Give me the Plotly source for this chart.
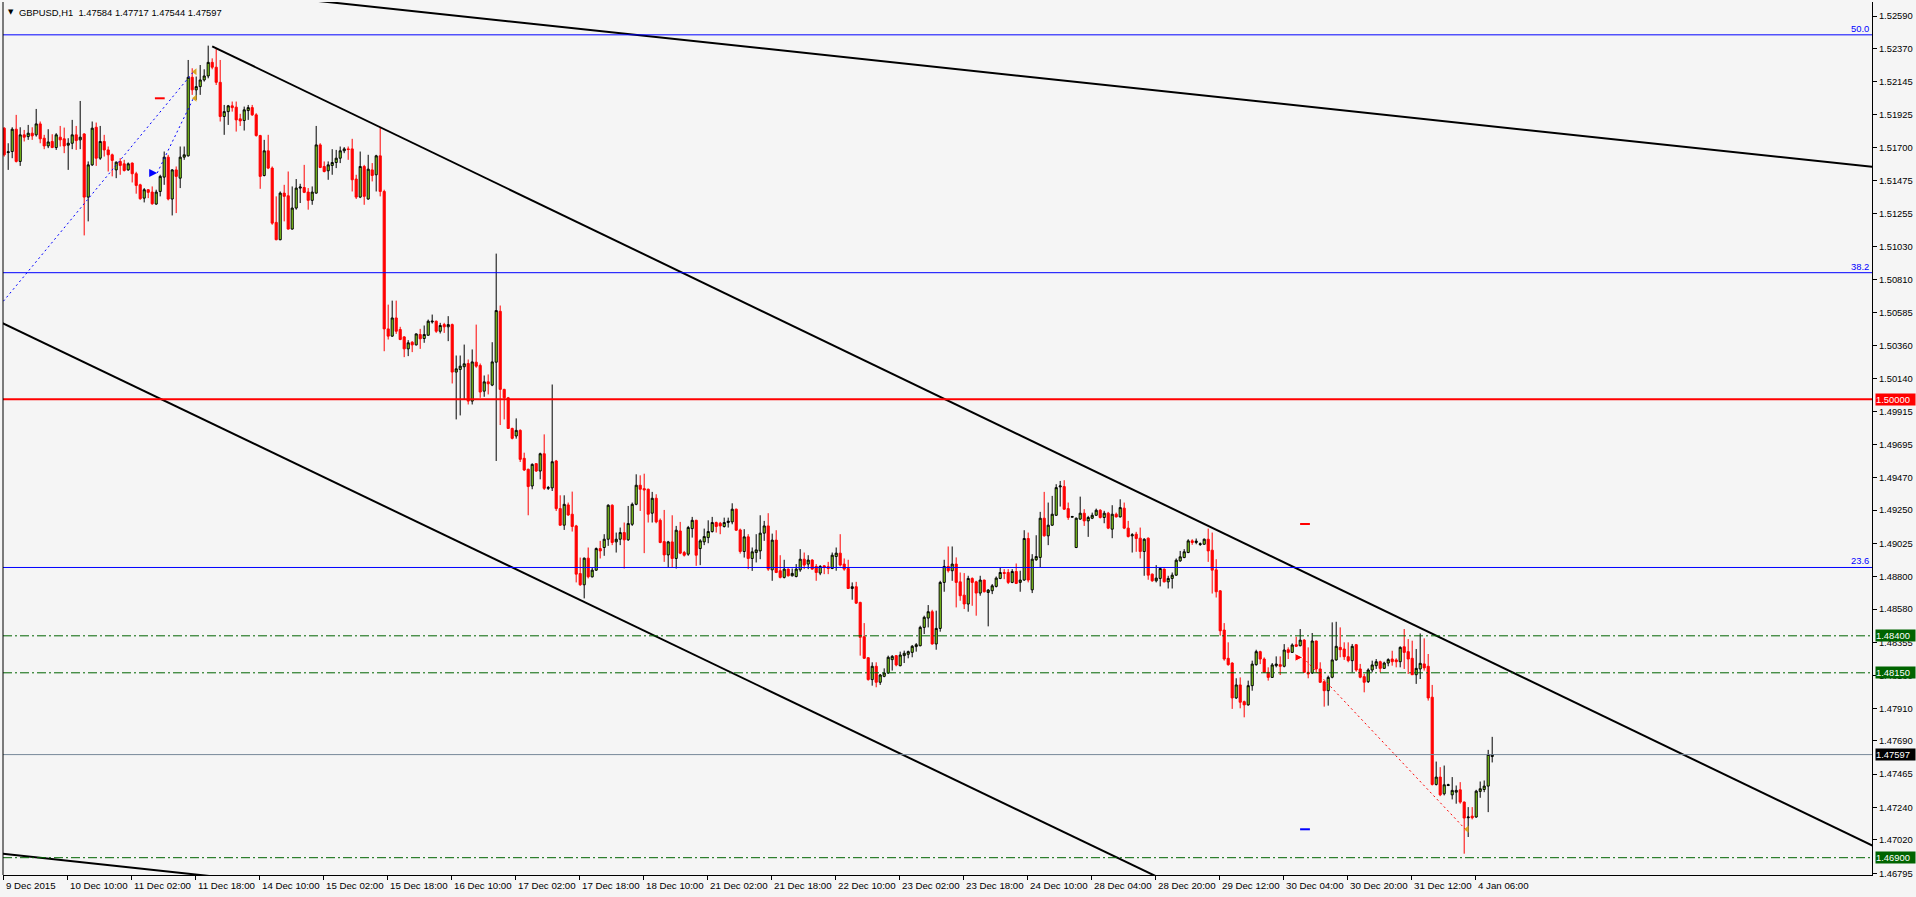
import plotly.graph_objects as go

# ---------------- data (GBPUSD H1) ----------------
x_labels = ["9 Dec 2015", "10 Dec 10:00", "11 Dec 02:00", "11 Dec 18:00", "14 Dec 10:00",
            "15 Dec 02:00", "15 Dec 18:00", "16 Dec 10:00", "17 Dec 02:00", "17 Dec 18:00",
            "18 Dec 10:00", "21 Dec 02:00", "21 Dec 18:00", "22 Dec 10:00", "23 Dec 02:00",
            "23 Dec 18:00", "24 Dec 10:00", "28 Dec 04:00", "28 Dec 20:00", "29 Dec 12:00",
            "30 Dec 04:00", "30 Dec 20:00", "31 Dec 12:00", "4 Jan 06:00"]
x_label_bars = [0, 16, 32, 48, 64, 80, 96, 112, 128, 144, 160, 176, 192, 208, 224,
                240, 256, 272, 288, 304, 320, 336, 352, 368]

open_ = [
1.51832,1.51667,1.51674,1.51825,1.51607,1.51787,1.51775,1.51798,1.51787,1.51861,
1.51764,1.51712,1.51742,1.51701,1.51771,1.51760,1.51717,1.51730,1.51787,1.51753,
1.51793,1.51366,1.51584,1.51838,1.51629,1.51742,1.51685,1.51652,1.51550,1.51607,
1.51591,1.51550,1.51596,1.51524,1.51449,1.51359,1.51416,1.51400,1.51319,1.51404,
1.51501,1.51636,1.51353,1.51550,1.51494,1.51636,1.51645,1.52176,1.52091,1.52113,
1.52158,1.52185,1.52277,1.52244,1.52142,1.51911,1.51944,1.51983,1.51974,1.51895,
1.51884,1.51951,1.51971,1.51922,1.51782,1.51512,1.51679,1.51562,1.51195,1.51078,
1.51393,1.51375,1.51150,1.51292,1.51427,1.51431,1.51400,1.51344,1.51393,1.51719,
1.51573,1.51544,1.51580,1.51600,1.51629,1.51679,1.51692,1.51692,1.51488,1.51366,
1.51573,1.51353,1.51550,1.51517,1.51645,1.51404,1.50475,1.50426,1.50549,1.50471,
1.50421,1.50340,1.50385,1.50367,1.50437,1.50410,1.50432,1.50522,1.50527,1.50459,
1.50504,1.50489,1.50504,1.50183,1.50201,1.50219,1.50241,1.49987,1.50250,1.50228,
1.50054,1.50117,1.50095,1.50250,1.50594,1.50066,1.50009,1.49802,1.49751,1.49789,
1.49600,1.49526,1.49413,1.49564,1.49514,1.49631,1.49397,1.49400,1.49582,1.49260,
1.49148,1.49285,1.49222,1.49143,1.48821,1.48745,1.48925,1.48799,1.48844,1.48990,
1.48997,1.49053,1.49283,1.49035,1.49053,1.49098,1.49049,1.49154,1.49289,1.49418,
1.49395,1.49391,1.49229,1.49330,1.49181,1.49037,1.48947,1.49035,1.48923,1.49109,
1.48963,1.48952,1.49125,1.49181,1.48990,1.49035,1.49064,1.49105,1.49166,1.49161,
1.49139,1.49166,1.49170,1.49256,1.49116,1.48970,1.49069,1.48923,1.48963,1.48974,
1.49094,1.49143,1.48846,1.49047,1.48840,1.48795,1.48851,1.48806,1.48801,1.48846,
1.48918,1.48885,1.48912,1.48869,1.48824,1.48873,1.48867,1.48855,1.48936,1.48959,
1.48885,1.48855,1.48720,1.48732,1.48626,1.48394,1.48252,1.48104,1.48194,1.48086,
1.48126,1.48149,1.48239,1.48266,1.48198,1.48266,1.48275,1.48288,1.48327,1.48333,
1.48457,1.48520,1.48563,1.48345,1.48450,1.48761,1.48869,1.48840,1.48885,1.48765,
1.48675,1.48615,1.48788,1.48765,1.48689,1.48777,1.48693,1.48705,1.48734,1.48788,
1.48828,1.48828,1.48761,1.48835,1.48761,1.48777,1.49058,1.48711,1.48914,1.48930,
1.49195,1.49076,1.49148,1.49215,1.49407,1.49409,1.49260,1.49202,1.48997,1.49189,
1.49229,1.49177,1.49195,1.49215,1.49249,1.49200,1.49229,1.49121,1.49222,1.49204,
1.49263,1.49128,1.49076,1.49087,1.49060,1.48970,1.49060,1.48817,1.48772,1.48788,
1.48851,1.48765,1.48788,1.48810,1.48907,1.48929,1.48963,1.49042,1.49031,1.49017,
1.49019,1.49053,1.48979,1.48846,1.48704,1.48439,1.48248,1.48216,1.47980,1.48068,
1.47955,1.47933,1.48063,1.48205,1.48293,1.48243,1.48153,1.48119,1.48198,1.48205,
1.48194,1.48306,1.48288,1.48340,1.48333,1.48371,1.48153,1.48149,1.48365,1.48176,
1.48090,1.48029,1.48120,1.48237,1.48322,1.48311,1.48259,1.48232,1.48340,1.48176,
1.48124,1.48090,1.48169,1.48198,1.48225,1.48180,1.48216,1.48243,1.48237,1.48225,
1.48326,1.48293,1.48248,1.48137,1.48176,1.48210,1.48194,1.47985,1.47395,1.47445,
1.47332,1.47388,1.47325,1.47343,1.47359,1.47276,1.47170,1.47181,1.47175,1.47348,
1.47361,1.47384,1.47584]

high = [
1.51838,1.51730,1.51838,1.51922,1.51838,1.51820,1.51854,1.51838,1.51962,1.51877,
1.51787,1.51825,1.51791,1.51798,1.51847,1.51836,1.51764,1.51888,1.51847,1.52016,
1.51798,1.51607,1.51877,1.51870,1.51847,1.51787,1.51708,1.51660,1.51607,1.51629,
1.51618,1.51600,1.51600,1.51537,1.51456,1.51427,1.51420,1.51438,1.51416,1.51517,
1.51674,1.51652,1.51555,1.51573,1.51708,1.51708,1.52293,1.52237,1.52181,1.52259,
1.52230,1.52390,1.52304,1.52372,1.52293,1.51989,1.51989,1.52012,1.52012,1.51929,
1.51978,1.51989,1.51989,1.51933,1.51787,1.51753,1.51787,1.51573,1.51371,1.51404,
1.51449,1.51539,1.51438,1.51488,1.51456,1.51584,1.51427,1.51438,1.51847,1.51730,
1.51607,1.51607,1.51690,1.51685,1.51708,1.51704,1.51708,1.51760,1.51517,1.51674,
1.51584,1.51652,1.51596,1.51652,1.51838,1.51416,1.50639,1.50666,1.50666,1.50489,
1.50426,1.50399,1.50392,1.50444,1.50475,1.50498,1.50538,1.50572,1.50531,1.50516,
1.50516,1.50561,1.50511,1.50295,1.50295,1.50369,1.50268,1.50336,1.50504,1.50241,
1.50160,1.50167,1.50385,1.50984,1.50633,1.50070,1.50015,1.49807,1.49870,1.49796,
1.49638,1.49530,1.49566,1.49566,1.49638,1.49762,1.49413,1.50099,1.49589,1.49350,
1.49350,1.49301,1.49375,1.49150,1.48929,1.48929,1.48997,1.48862,1.48997,1.49042,
1.49087,1.49289,1.49289,1.49098,1.49132,1.49166,1.49278,1.49301,1.49492,1.49485,
1.49496,1.49395,1.49373,1.49357,1.49193,1.49251,1.49042,1.49215,1.49143,1.49170,
1.48974,1.49143,1.49204,1.49184,1.49053,1.49125,1.49181,1.49204,1.49172,1.49170,
1.49199,1.49199,1.49296,1.49260,1.49125,1.49121,1.49087,1.48997,1.49087,1.49215,
1.49177,1.49229,1.49091,1.49114,1.48945,1.48914,1.48855,1.48855,1.48885,1.48986,
1.48963,1.48945,1.48918,1.48885,1.48878,1.48878,1.48900,1.48963,1.48997,1.49087,
1.48923,1.48914,1.48761,1.48765,1.48630,1.48486,1.48255,1.48221,1.48221,1.48142,
1.48180,1.48266,1.48270,1.48270,1.48293,1.48300,1.48300,1.48338,1.48351,1.48468,
1.48536,1.48608,1.48576,1.48570,1.48772,1.48914,1.49004,1.49004,1.48930,1.48828,
1.48824,1.48806,1.48795,1.48772,1.48806,1.48779,1.48716,1.48750,1.48801,1.48862,
1.48851,1.48851,1.48851,1.48889,1.48840,1.49114,1.49098,1.48952,1.49080,1.49238,
1.49373,1.49301,1.49346,1.49425,1.49447,1.49452,1.49301,1.49211,1.49200,1.49341,
1.49256,1.49211,1.49233,1.49260,1.49256,1.49245,1.49238,1.49283,1.49233,1.49323,
1.49301,1.49177,1.49094,1.49103,1.49132,1.49060,1.49065,1.48821,1.48878,1.48862,
1.48855,1.48806,1.48828,1.48923,1.48974,1.48986,1.49053,1.49053,1.49058,1.49031,
1.49058,1.49125,1.49098,1.48918,1.48709,1.48486,1.48356,1.48221,1.48113,1.48119,
1.47962,1.48097,1.48232,1.48306,1.48299,1.48254,1.48187,1.48216,1.48261,1.48261,
1.48344,1.48322,1.48349,1.48394,1.48446,1.48378,1.48322,1.48419,1.48367,1.48221,
1.48097,1.48131,1.48491,1.48495,1.48457,1.48356,1.48356,1.48345,1.48345,1.48210,
1.48142,1.48180,1.48232,1.48243,1.48232,1.48225,1.48248,1.48299,1.48248,1.48329,
1.48446,1.48378,1.48367,1.48311,1.48416,1.48383,1.48277,1.48068,1.47550,1.47512,
1.47523,1.47400,1.47445,1.47388,1.47411,1.47280,1.47242,1.47242,1.47359,1.47415,
1.47422,1.47629,1.47717]

low = [
1.51640,1.51550,1.51629,1.51600,1.51577,1.51742,1.51753,1.51753,1.51775,1.51730,
1.51690,1.51697,1.51697,1.51685,1.51708,1.51663,1.51550,1.51690,1.51685,1.51690,
1.51107,1.51202,1.51577,1.51577,1.51618,1.51640,1.51539,1.51506,1.51494,1.51517,
1.51539,1.51544,1.51465,1.51389,1.51348,1.51330,1.51359,1.51314,1.51314,1.51371,
1.51449,1.51344,1.51242,1.51258,1.51427,1.51618,1.51640,1.52057,1.52023,1.52057,
1.52147,1.52169,1.52230,1.52124,1.51877,1.51787,1.51854,1.51944,1.51809,1.51847,
1.51816,1.51888,1.51915,1.51775,1.51422,1.51506,1.51555,1.51179,1.51074,1.51074,
1.51202,1.51146,1.51146,1.51281,1.51326,1.51393,1.51281,1.51314,1.51389,1.51562,
1.51533,1.51483,1.51517,1.51562,1.51596,1.51663,1.51618,1.51404,1.51353,1.51359,
1.51314,1.51348,1.51472,1.51404,1.51371,1.50324,1.50403,1.50421,1.50441,1.50399,
1.50284,1.50291,1.50318,1.50363,1.50340,1.50381,1.50430,1.50511,1.50448,1.50444,
1.50448,1.50392,1.50106,1.49863,1.49890,1.49998,1.49964,1.49964,1.50212,1.50009,
1.50016,1.50032,1.50088,1.49582,1.49825,1.49863,1.49800,1.49728,1.49733,1.49575,
1.49514,1.49215,1.49391,1.49508,1.49458,1.49386,1.49386,1.49379,1.49244,1.49143,
1.49116,1.49211,1.49105,1.48761,1.48738,1.48653,1.48788,1.48794,1.48839,1.48923,
1.48941,1.49008,1.49013,1.48963,1.49013,1.48855,1.49042,1.49143,1.49283,1.49244,
1.48959,1.49166,1.49166,1.49161,1.49026,1.48900,1.48862,1.48862,1.48855,1.48952,
1.48936,1.48941,1.49064,1.48873,1.48878,1.49013,1.49026,1.49098,1.49098,1.49087,
1.49132,1.49132,1.49154,1.49109,1.48956,1.48929,1.48851,1.48839,1.48896,1.48918,
1.49042,1.48839,1.48772,1.48824,1.48788,1.48788,1.48801,1.48801,1.48795,1.48833,
1.48851,1.48851,1.48846,1.48772,1.48810,1.48817,1.48817,1.48851,1.48840,1.48869,
1.48840,1.48716,1.48644,1.48615,1.48266,1.48243,1.48097,1.48063,1.48052,1.48068,
1.48120,1.48142,1.48165,1.48194,1.48194,1.48216,1.48248,1.48255,1.48293,1.48329,
1.48412,1.48457,1.48340,1.48306,1.48428,1.48698,1.48828,1.48772,1.48592,1.48637,
1.48581,1.48563,1.48603,1.48536,1.48671,1.48693,1.48464,1.48682,1.48727,1.48783,
1.48783,1.48750,1.48756,1.48750,1.48698,1.48772,1.48761,1.48689,1.48907,1.48862,
1.49071,1.49013,1.49143,1.49211,1.49274,1.49251,1.49184,1.49200,1.48993,1.49184,
1.49143,1.49069,1.49189,1.49211,1.49193,1.49161,1.49121,1.49060,1.49200,1.49200,
1.49121,1.49065,1.48963,1.48968,1.48923,1.48806,1.48779,1.48765,1.48761,1.48734,
1.48761,1.48720,1.48720,1.48806,1.48900,1.48925,1.48959,1.49015,1.49019,1.49008,
1.49015,1.48900,1.48686,1.48659,1.48401,1.48232,1.48198,1.47906,1.47973,1.47910,
1.47849,1.47928,1.48029,1.48198,1.48209,1.48149,1.48097,1.48115,1.48187,1.48135,
1.48187,1.48243,1.48284,1.48324,1.48329,1.48149,1.48113,1.48142,1.48149,1.48081,
1.47921,1.47928,1.48113,1.48232,1.48255,1.48237,1.48221,1.48153,1.48158,1.48113,
1.48018,1.48081,1.48153,1.48176,1.48153,1.48176,1.48194,1.48198,1.48187,1.48187,
1.48176,1.48142,1.48135,1.48075,1.48108,1.48165,1.47962,1.47388,1.47388,1.47316,
1.47321,1.47384,1.47294,1.47265,1.47265,1.46927,1.47040,1.47159,1.47170,1.47305,
1.47343,1.47208,1.47544]

close = [
1.51652,1.51672,1.51825,1.51607,1.51787,1.51771,1.51798,1.51780,1.51861,1.51760,
1.51712,1.51739,1.51701,1.51787,1.51753,1.51712,1.51730,1.51787,1.51748,1.51771,
1.51366,1.51584,1.51832,1.51629,1.51742,1.51685,1.51652,1.51614,1.51602,1.51580,
1.51546,1.51591,1.51524,1.51445,1.51355,1.51416,1.51398,1.51321,1.51400,1.51506,
1.51636,1.51353,1.51550,1.51506,1.51636,1.51652,1.52176,1.52091,1.52113,1.52158,
1.52185,1.52277,1.52244,1.52142,1.51911,1.51944,1.51983,1.51971,1.51888,1.51881,
1.51956,1.51971,1.51922,1.51782,1.51506,1.51679,1.51562,1.51190,1.51078,1.51393,
1.51371,1.51150,1.51292,1.51427,1.51434,1.51398,1.51344,1.51400,1.51719,1.51566,
1.51539,1.51584,1.51600,1.51629,1.51679,1.51692,1.51688,1.51483,1.51366,1.51573,
1.51371,1.51555,1.51512,1.51645,1.51404,1.50475,1.50426,1.50549,1.50459,1.50403,
1.50340,1.50381,1.50367,1.50441,1.50408,1.50437,1.50527,1.50527,1.50459,1.50498,
1.50489,1.50504,1.50183,1.50205,1.50223,1.50239,1.49987,1.50252,1.50223,1.50048,
1.50117,1.50104,1.50252,1.50599,1.50066,1.50009,1.49802,1.49735,1.49789,1.49593,
1.49521,1.49409,1.49559,1.49514,1.49631,1.49397,1.49402,1.49577,1.49260,1.49148,
1.49289,1.49217,1.49139,1.48817,1.48745,1.48925,1.48799,1.48844,1.48990,1.48974,
1.49053,1.49283,1.49031,1.49053,1.49098,1.49049,1.49159,1.49289,1.49418,1.49391,
1.49386,1.49222,1.49330,1.49170,1.49031,1.48947,1.49035,1.48923,1.49114,1.48959,
1.48945,1.49132,1.49181,1.48945,1.49042,1.49071,1.49105,1.49166,1.49139,1.49143,
1.49166,1.49175,1.49256,1.49114,1.48970,1.49069,1.48923,1.48968,1.48981,1.49094,
1.49143,1.48851,1.49047,1.48828,1.48795,1.48851,1.48806,1.48822,1.48851,1.48918,
1.48878,1.48912,1.48851,1.48828,1.48869,1.48862,1.48855,1.48945,1.48959,1.48878,
1.48851,1.48720,1.48732,1.48621,1.48390,1.48248,1.48104,1.48194,1.48086,1.48135,
1.48149,1.48255,1.48261,1.48203,1.48270,1.48282,1.48293,1.48329,1.48340,1.48457,
1.48525,1.48563,1.48345,1.48450,1.48761,1.48869,1.48840,1.48885,1.48761,1.48671,
1.48615,1.48788,1.48761,1.48689,1.48777,1.48698,1.48709,1.48738,1.48790,1.48828,
1.48822,1.48761,1.48835,1.48754,1.48777,1.49058,1.48777,1.48918,1.48936,1.49195,
1.49076,1.49148,1.49222,1.49402,1.49413,1.49256,1.49200,1.49206,1.49195,1.49229,
1.49177,1.49200,1.49215,1.49249,1.49200,1.49229,1.49128,1.49222,1.49204,1.49267,
1.49128,1.49071,1.49083,1.49058,1.48970,1.49053,1.48810,1.48772,1.48790,1.48855,
1.48765,1.48788,1.48810,1.48911,1.48934,1.48968,1.49042,1.49031,1.49040,1.49022,
1.49053,1.48974,1.48844,1.48698,1.48434,1.48243,1.48205,1.47980,1.48068,1.47951,
1.47933,1.48063,1.48209,1.48293,1.48243,1.48153,1.48119,1.48203,1.48209,1.48194,
1.48304,1.48288,1.48338,1.48329,1.48371,1.48153,1.48142,1.48365,1.48176,1.48086,
1.48029,1.48119,1.48237,1.48329,1.48306,1.48259,1.48232,1.48329,1.48169,1.48120,
1.48086,1.48169,1.48203,1.48225,1.48180,1.48216,1.48239,1.48225,1.48225,1.48322,
1.48288,1.48243,1.48137,1.48180,1.48214,1.48183,1.47980,1.47395,1.47445,1.47325,
1.47393,1.47393,1.47355,1.47355,1.47276,1.47168,1.47175,1.47170,1.47350,1.47366,
1.47384,1.47598,1.47597]

y_ticks = [1.52590, 1.52370, 1.52145, 1.51925, 1.51700, 1.51475, 1.51255, 1.51030,
           1.50810, 1.50585, 1.50360, 1.50140, 1.49915, 1.49695, 1.49470, 1.49250,
           1.49025, 1.48800, 1.48580, 1.48355, 1.48130, 1.47910, 1.47690, 1.47465,
           1.47240, 1.47020, 1.46795]

# horizontal levels
fib_levels = [1.52463, 1.50855, 1.48862]
fib_names = ["50.0", "38.2", "23.6"]
round_level = 1.50000
green_levels = [1.48400, 1.48150, 1.46900]
bid_price = 1.47597

# trend lines: (bars, prices)
trend_lines = [
    ([40, 470], [1.52803, 1.51562]),
    ([52, 470], [1.52385, 1.46943]),
    ([-1, 320], [1.50522, 1.46359]),
    ([-1, 60], [1.46928, 1.46751]),
]

# trade history objects
buy_lines = [([-1, 47.3], [1.50636, 1.52213]), ([38.25, 47.3], [1.51529, 1.52034])]
sell_line = ([324.7, 365.3], [1.48254, 1.47092])
buy_arrow = (38.25, 1.51529)
sell_arrow = (324.7, 1.48254)
close_arrows = ([47.7, 47.7, 365.7], [1.52213, 1.52034, 1.47092])
red_marks = ([38.9, 325.2], [1.52034, 1.49156])
blue_marks = ([325.2], [1.47092])

title_text = "GBPUSD,H1  1.47584 1.47717 1.47544 1.47597"

# ---------------- figure ----------------
FONT = "Liberation Sans"
FS = 9.4
FSX = 9.7
BG = "#F5F5F5"
bars = list(range(len(open_)))

fig = go.Figure()
fig.add_trace(go.Candlestick(
    x=bars, open=open_, high=high, low=low, close=close,
    increasing=dict(line=dict(color="#000000", width=1), fillcolor="#8FE31C"),
    decreasing=dict(line=dict(color="#FF0000", width=1), fillcolor="#FF0000"),
    whiskerwidth=0, showlegend=False, hoverinfo="none"))

for xs, ys in trend_lines:
    fig.add_trace(go.Scatter(x=xs, y=ys, mode="lines", line=dict(color="#000000", width=2),
                             showlegend=False, hoverinfo="skip"))

for xs, ys in buy_lines:
    fig.add_trace(go.Scatter(x=xs, y=ys, mode="lines",
                             line=dict(color="#0000FF", width=1, dash="2px,3px"),
                             showlegend=False, hoverinfo="skip"))
fig.add_trace(go.Scatter(x=sell_line[0], y=sell_line[1], mode="lines",
                         line=dict(color="#FF0000", width=1, dash="2px,3px"),
                         showlegend=False, hoverinfo="skip"))
fig.add_trace(go.Scatter(x=[buy_arrow[0]], y=[buy_arrow[1]], mode="markers",
                         marker=dict(symbol="arrow-right", size=8, color="#0000FF"),
                         showlegend=False, hoverinfo="skip"))
fig.add_trace(go.Scatter(x=[sell_arrow[0]], y=[sell_arrow[1]], mode="markers",
                         marker=dict(symbol="arrow-right", size=8, color="#FF0000",
                                     line=dict(color="white", width=1)),
                         showlegend=False, hoverinfo="skip"))
fig.add_trace(go.Scatter(x=close_arrows[0], y=close_arrows[1], mode="markers",
                         marker=dict(symbol="triangle-left", size=6, color="#DAA520"),
                         showlegend=False, hoverinfo="skip"))
fig.add_trace(go.Scatter(x=red_marks[0], y=red_marks[1], mode="markers",
                         marker=dict(symbol="line-ew", size=7, line=dict(color="#FF0000", width=2)),
                         showlegend=False, hoverinfo="skip"))
fig.add_trace(go.Scatter(x=blue_marks[0], y=blue_marks[1], mode="markers",
                         marker=dict(symbol="line-ew", size=7, line=dict(color="#0000FF", width=2)),
                         showlegend=False, hoverinfo="skip"))

shapes = []
for lv in fib_levels:
    shapes.append(dict(type="line", xref="paper", x0=0, x1=1, yref="y", y0=lv, y1=lv,
                       line=dict(color="#0000FF", width=1)))
shapes.append(dict(type="line", xref="paper", x0=0, x1=1, yref="y", y0=round_level, y1=round_level,
                   line=dict(color="#FF0000", width=2)))
for lv in green_levels:
    shapes.append(dict(type="line", xref="paper", x0=0, x1=1, yref="y", y0=lv, y1=lv,
                       line=dict(color="#006400", width=1, dash="9px,3px,2px,3px")))
shapes.append(dict(type="line", xref="paper", x0=0, x1=1, yref="y", y0=bid_price, y1=bid_price,
                   line=dict(color="#778899", width=1)))
shapes.append(dict(type="line", xref="paper", x0=0, x1=0, yref="paper", y0=0, y1=1,
                   line=dict(color="#000000", width=1)))

ann = []
ann.append(dict(xref="paper", yref="paper", x=0, y=1, xanchor="left", yanchor="top",
                xshift=3, yshift=-4, text="▼", showarrow=False,
                font=dict(family="DejaVu Sans", size=7, color="#000000")))
ann.append(dict(xref="paper", yref="paper", x=0, y=1, xanchor="left", yanchor="top",
                xshift=14, yshift=-3, text=title_text, showarrow=False,
                font=dict(family=FONT, size=FS, color="#000000")))
for lv, nm in zip(fib_levels, fib_names):
    ann.append(dict(xref="paper", yref="y", x=1, y=lv, xanchor="right", yanchor="bottom",
                    xshift=-1, yshift=-1, text=nm, showarrow=False,
                    font=dict(family=FONT, size=FS, color="#0000FF")))
boxes = [(round_level, "#FF0000")] + [(g, "#006400") for g in green_levels] + [(bid_price, "#000000")]
for lv, col in boxes:
    ann.append(dict(xref="paper", yref="y", x=1, y=lv, xanchor="left", yanchor="middle",
                    xshift=3, text=f"{lv:.5f}", showarrow=False, bgcolor=col,
                    width=39, align="left", borderpad=0,
                    font=dict(family=FONT, size=FS, color="#FFFFFF")))
for b, lab in zip(x_label_bars, x_labels):
    ann.append(dict(xref="x", yref="paper", x=b - 0.25, y=0, xanchor="left", yanchor="top",
                    xshift=1, yshift=-3, text=lab, showarrow=False,
                    font=dict(family=FONT, size=FSX, color="#000000")))

fig.update_layout(
    width=1916, height=897,
    margin=dict(l=3, r=44, t=2, b=22, pad=0),
    paper_bgcolor=BG, plot_bgcolor=BG,
    boxgap=0.25,
    showlegend=False,
    shapes=shapes,
    annotations=ann,
    xaxis=dict(range=[-0.3, 466.95], showgrid=False, zeroline=False, showline=True,
               linecolor="#000000", linewidth=1, ticks="outside", ticklen=4,
               tickcolor="#000000", tickvals=[b - 0.25 for b in x_label_bars],
               showticklabels=False, rangeslider=dict(visible=False), fixedrange=True),
    yaxis=dict(side="right", range=[1.46783, 1.52685], tickvals=y_ticks,
               ticktext=[f"{v:.5f}" for v in y_ticks], ticks="outside", ticklen=4,
               tickcolor="#000000", showline=True, linecolor="#000000", linewidth=1,
               showgrid=False, zeroline=False, fixedrange=True,
               tickfont=dict(family=FONT, size=FS, color="#000000")),
)

fig.write_html("out.html", config={"displayModeBar": False, "staticPlot": True},
               post_script="document.body.style.margin='0';document.body.style.overflow='hidden';")
